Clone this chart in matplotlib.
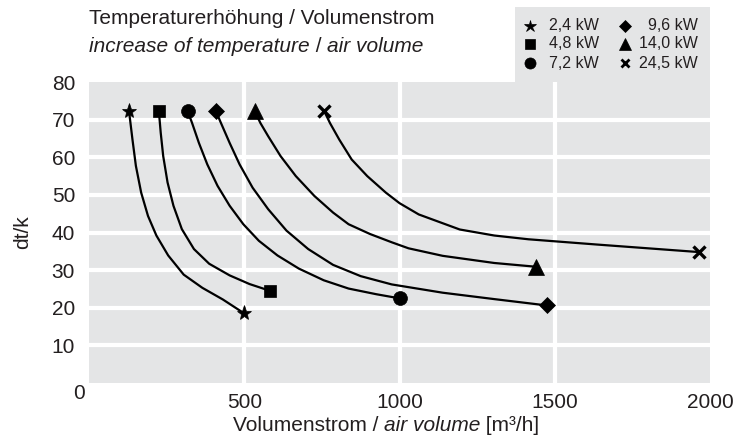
import matplotlib
matplotlib.use('Agg')
import matplotlib.pyplot as plt

plt.rcParams['font.family'] = ['Liberation Sans', 'DejaVu Sans']

# curves: air volume [m3/h] vs. temperature rise [K]
vol_24 = [129, 140, 151, 168, 190, 217, 255, 305, 365, 431, 498]
dt_24 = [72.2, 64.7, 57.7, 50.6, 44.4, 39.2, 33.9, 28.8, 25.3, 22.2, 18.6]

vol_48 = [225, 231, 239, 253, 272, 299, 338, 387, 453, 517, 583]
dt_48 = [72.2, 66.5, 60.3, 53.3, 47.1, 40.9, 35.6, 31.7, 28.6, 26.3, 24.5]

vol_72 = [318, 332, 354, 381, 414, 453, 497, 547, 607, 676, 756, 836, 925, 1000]
dt_72 = [72.2, 69.1, 63.8, 58.1, 52.4, 47.1, 42.2, 37.8, 33.9, 30.4, 27.3, 25.1, 23.6, 22.5]

vol_96 = [409, 425, 453, 485, 527, 577, 636, 706, 786, 875, 975, 1139, 1305, 1476]
dt_96 = [72.2, 69.1, 63.8, 58.1, 51.9, 46.2, 40.5, 35.6, 31.4, 28.4, 26.2, 24.0, 22.3, 20.6]

vol_140 = [534, 552, 577, 617, 666, 726, 786, 836, 905, 975, 1029, 1139, 1305, 1439]
dt_140 = [72.2, 69.1, 65.6, 60.3, 55.0, 49.7, 45.3, 42.2, 39.6, 37.4, 35.8, 33.8, 31.9, 30.9]

vol_245 = [758, 776, 806, 846, 896, 956, 1000, 1062, 1194, 1305, 1415, 1636, 1964]
dt_245 = [72.2, 69.1, 64.7, 59.4, 55.0, 50.6, 47.8, 44.8, 40.8, 39.2, 38.2, 36.8, 34.8]

labels = ['2,4 kW', '4,8 kW', '7,2 kW', '9,6 kW', '14,0 kW', '24,5 kW']
markers = ['*', 's', 'o', 'D', '^', 'x']
msizes = [11, 9, 10, 8, 11, 8]

x_ticks = [500, 1000, 1500, 2000]
y_ticks = [10, 20, 30, 40, 50, 60, 70, 80]

series = [(vol_24, dt_24), (vol_48, dt_48), (vol_72, dt_72),
          (vol_96, dt_96), (vol_140, dt_140), (vol_245, dt_245)]

bg = '#e4e5e6'
txt = '#231f20'

fig = plt.figure(figsize=(7.48, 4.37), dpi=100)
W, H = 748, 437
ax = fig.add_axes([89 / W, 1 - 383 / H, 621 / W, 301 / H])
ax.set_facecolor(bg)
for s in ax.spines.values():
    s.set_visible(False)

ax.set_xlim(0, 2000)
ax.set_ylim(0, 80)

# white grid
for yv in y_ticks[:-1]:
    ax.axhline(yv, color='white', lw=3, zorder=1)
for xv in x_ticks[:-1]:
    ax.axvline(xv, color='white', lw=3, zorder=1)

for (xs, ys), m, ms in zip(series, markers, msizes):
    ax.plot(xs, ys, color='black', lw=1.6, zorder=3, solid_joinstyle='round')
    mew = 2.4 if m == 'x' else 0.5
    ax.plot([xs[0], xs[-1]], [ys[0], ys[-1]], ls='none', marker=m, ms=ms,
            color='black', mew=mew, zorder=4)

ax.set_xticks(x_ticks)
ax.set_yticks(y_ticks)
ax.tick_params(length=0, labelsize=15, labelcolor=txt)
ax.tick_params(axis='x', pad=7)
ax.tick_params(axis='y', pad=10)
ax.annotate('0', xy=(0, 0), xytext=(-3, -1), textcoords='offset points',
            ha='right', va='top', fontsize=15, color=txt)

ax.set_ylabel('dt/k', fontsize=15, color=txt, labelpad=14)

# x axis label with italic part
t1 = fig.text(233 / W, 1 - 437 / H + 0.005, 'Volumenstrom / ', fontsize=15,
              color=txt, va='bottom')
t2 = ax.annotate('air volume', xycoords=t1, xy=(1, 0), va='bottom',
                 fontsize=15, color=txt, style='italic')
ax.annotate(' [m³/h]', xycoords=t2, xy=(1, 0), va='bottom', fontsize=15,
            color=txt)

# title
fig.text(89 / W, 1 - 19 / H, 'Temperaturerhöhung / Volumenstrom', fontsize=15,
         color=txt, va='center')
h1 = fig.text(89 / W, 1 - 46 / H, 'increase of temperature', fontsize=15,
              color=txt, va='center', style='italic')
h2 = ax.annotate(' / ', xycoords=h1, xy=(1, 0), va='bottom', fontsize=15,
                 color=txt)
ax.annotate('air volume', xycoords=h2, xy=(1, 0), va='bottom', fontsize=15,
            color=txt, style='italic')

# legend box
box = plt.Rectangle((515 / W, 1 - 82 / H), 195 / W, 75 / H, transform=fig.transFigure,
                    facecolor=bg, edgecolor='none', zorder=0)
fig.patches.append(box)
rows = [26, 44, 63]
for i, (lab, m, ms) in enumerate(zip(labels, markers, msizes)):
    r = rows[i % 3]
    mew = 2.0 if m == 'x' else 0.5
    if i < 3:
        mx, tx, ha = 530, 549, 'left'
    else:
        mx, tx, ha = 625, 698, 'right'
    fig.lines.append(plt.Line2D([mx / W], [1 - r / H], transform=fig.transFigure,
                                marker=m, ms=ms * 0.8, color='black', mew=mew, ls='none'))
    fig.text(tx / W, 1 - r / H, lab, fontsize=11.5, color=txt, ha=ha, va='center')

fig.savefig('out.png', dpi=100)
